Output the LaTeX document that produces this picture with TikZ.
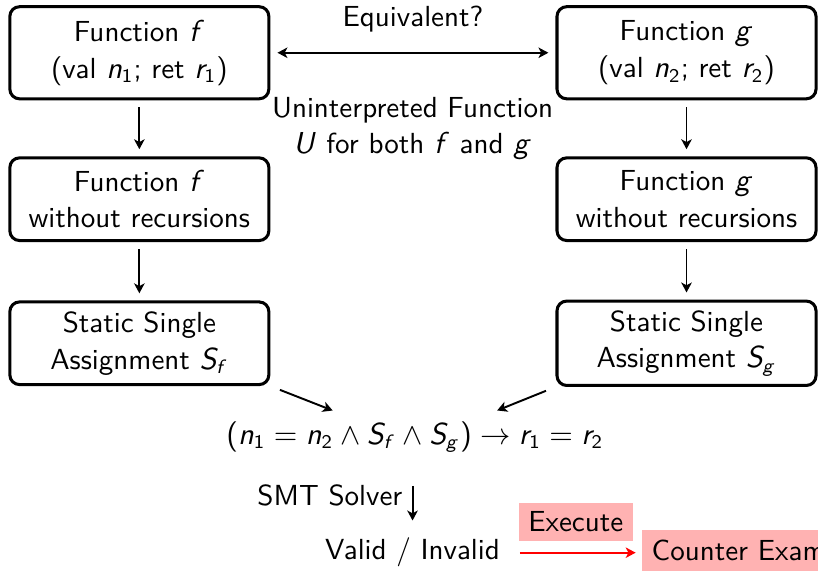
\documentclass[tikz,border=0pt]{standalone}
\usepackage{amsmath,amssymb}
\usetikzlibrary{arrows.meta,positioning,calc}
\renewcommand{\familydefault}{\sfdefault}
\DeclareSymbolFont{operators}{OT1}{cmss}{m}{n}
\DeclareSymbolFont{letters}{OT1}{cmss}{m}{sl}

\begin{document}
\begin{tikzpicture}[>={Stealth[length=3.6pt,width=3.8pt,inset=1pt]},every node/.style={font=\fontsize{10.5pt}{13.3pt}\selectfont\sffamily},
  procbox/.style={draw,line width=1.1pt,rounded corners=3.5pt,align=center,minimum width=3.29cm,minimum height=1.05cm},
  flow/.style={->,line width=0.7pt,shorten <=0.9mm,shorten >=0.9mm}]
\path[use as bounding box,clip] (0,0) rectangle (10.39,-7.24);
% the two functions
\node[procbox,minimum height=1.17cm] (f1) at (1.77,-0.67) {Function \(f\)\\(val \(n_1\); ret \(r_1\))};
\node[procbox,minimum height=1.17cm] (g1) at (8.72,-0.67) {Function \(g\)\\(val \(n_2\); ret \(r_2\))};
\node[procbox] (f2) at (1.77,-2.53) {Function \(f\)\\without recursions};
\node[procbox] (g2) at (8.72,-2.53) {Function \(g\)\\without recursions};
\node[procbox] (f3) at (1.77,-4.36) {Static Single\\Assignment \(S_f\)};
\node[procbox] (g3) at (8.72,-4.36) {Static Single\\Assignment \(S_g\)};
\draw[flow,<->] (f1)--node[above=1.3mm]{Equivalent?}(g1);
\node[align=center] (uf) at (5.24,-1.63) {Uninterpreted Function\\\(U\) for both \(f\) and \(g\)};
\draw[flow] (f1)--(f2);
\draw[flow] (g1)--(g2);
\draw[flow] (f2)--(f3);
\draw[flow] (g2)--(g3);
% verification condition
\node (vc) at (5.27,-5.55) {\((n_1 = n_2 \land S_f \land S_g) \rightarrow r_1 = r_2\)};
\draw[flow,shorten <=1.3mm,shorten >=0.4mm] (f3.south east)--($(vc.north west)!0.3!(vc.north east)$);
\draw[flow,shorten <=1.3mm,shorten >=0.4mm] (g3.south west)--($(vc.north west)!0.7!(vc.north east)$);
\node (vi) at (5.24,-7.02) {Valid / Invalid};
\draw[flow,shorten <=3mm,shorten >=1mm] (vi|-vc.south)--node[left]{SMT Solver}(vi);
\node[right=1.68cm of vi,fill=red!30] (ce) {Counter Example};
\draw[flow,red,shorten <=1.3mm,shorten >=0.8mm] (vi)--node[above=1.3mm,fill=red!30,text=black]{Execute}(ce);
\end{tikzpicture}
\end{document}
